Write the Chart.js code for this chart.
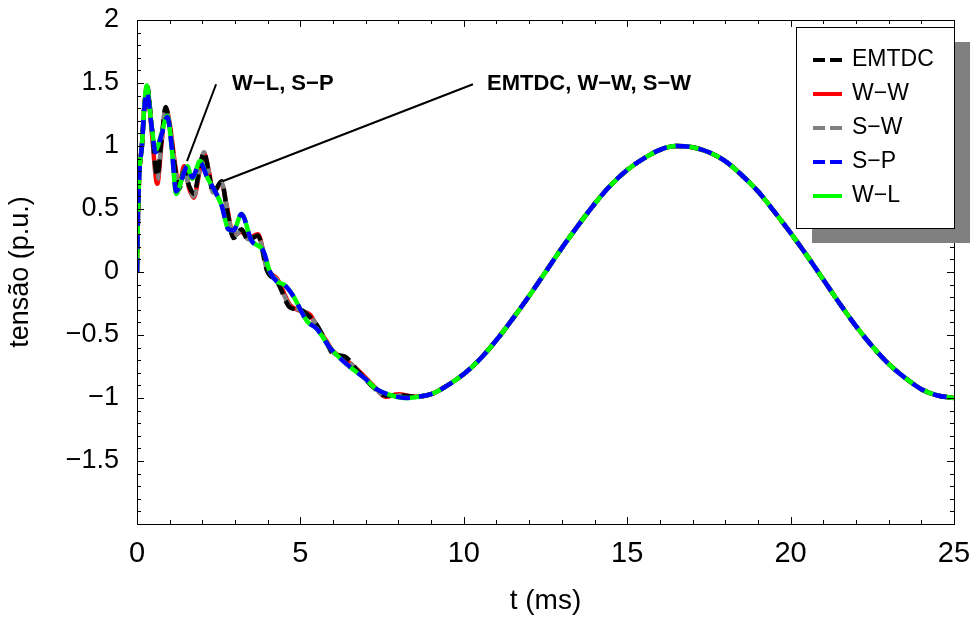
<!DOCTYPE html>
<html>
<head>
<meta charset="utf-8">
<script src="https://cdn.jsdelivr.net/npm/chart.js@4.4.0/dist/chart.umd.min.js"></script>
<style>
  html, body { margin: 0; padding: 0; background: #fff; }
  #wrap { width: 979px; height: 622px; }
</style>
</head>
<body>
<div id="wrap"><canvas id="chart" width="979" height="622"></canvas></div>
<script>
"use strict";
// transient part (t in ms, voltage in p.u.)
let tEarlyA = [0, 0.03, 0.07, 0.15, 0.22, 0.31, 0.45, 0.62, 0.75, 0.88, 1.0, 1.15, 1.29, 1.44, 1.6, 1.74, 1.9, 2.05, 2.2, 2.33, 2.59, 2.75, 2.95, 3.2, 3.4, 3.7, 3.98, 4.3, 4.68, 5.0, 5.3, 5.5, 5.8, 6.0, 6.35, 6.77, 7.3, 7.6, 8.0, 8.5];
let emtdcEarly = [0, 0.45, 0.78, 1.0, 1.3, 1.47, 1.15, 0.76, 1.05, 1.31, 1.15, 0.85, 0.66, 0.8, 0.68, 0.62, 0.8, 0.95, 0.78, 0.63, 0.72, 0.5, 0.27, 0.34, 0.25, 0.29, 0.01, -0.08, -0.28, -0.3, -0.36, -0.42, -0.56, -0.65, -0.67, -0.79, -0.93, -0.98, -0.98, -0.99];
let wwEarly = [0, 0.45, 0.78, 1.0, 1.3, 1.46, 1.12, 0.7, 1.02, 1.3, 1.18, 0.88, 0.68, 0.84, 0.66, 0.59, 0.78, 0.94, 0.8, 0.64, 0.7, 0.52, 0.29, 0.32, 0.27, 0.3, 0.03, -0.06, -0.26, -0.31, -0.34, -0.43, -0.55, -0.63, -0.69, -0.78, -0.92, -0.99, -0.97, -0.99];
let swEarly = [0, 0.45, 0.78, 1.0, 1.3, 1.47, 1.14, 0.73, 1.04, 1.31, 1.16, 0.86, 0.67, 0.82, 0.67, 0.6, 0.79, 0.95, 0.79, 0.63, 0.71, 0.51, 0.28, 0.33, 0.26, 0.29, 0.02, -0.07, -0.27, -0.3, -0.35, -0.42, -0.56, -0.64, -0.68, -0.79, -0.93, -0.98, -0.98, -0.99];

let tEarlyB = [0, 0.03, 0.07, 0.15, 0.22, 0.3, 0.45, 0.57, 0.75, 0.93, 1.05, 1.2, 1.35, 1.54, 1.69, 1.93, 2.15, 2.39, 2.6, 2.79, 2.95, 3.2, 3.5, 3.86, 4.07, 4.3, 4.5, 4.78, 5.2, 5.5, 5.9, 6.5, 7.0, 7.33, 7.8, 8.25, 8.6];
let wlEarly = [0, 0.45, 0.78, 1.0, 1.3, 1.48, 1.15, 0.97, 1.1, 1.24, 1.02, 0.62, 0.72, 0.84, 0.74, 0.88, 0.75, 0.64, 0.52, 0.34, 0.33, 0.46, 0.25, 0.17, 0.0, -0.08, -0.1, -0.19, -0.39, -0.45, -0.6, -0.75, -0.85, -0.93, -0.98, -1.0, -0.99];
let spEarly = [0, 0.45, 0.77, 1.0, 1.28, 1.43, 1.15, 0.95, 1.09, 1.23, 1.02, 0.64, 0.72, 0.84, 0.75, 0.87, 0.75, 0.64, 0.52, 0.34, 0.33, 0.46, 0.25, 0.17, 0.0, -0.08, -0.1, -0.19, -0.39, -0.45, -0.6, -0.75, -0.85, -0.93, -0.98, -1.0, -0.99];

// steady state, all five curves on top of each other
let tSteady = [9, 9.5, 10, 10.5, 11, 11.5, 12, 12.5, 13, 13.5, 14, 14.5, 15, 15.5, 16, 16.5, 17, 17.5, 18, 18.5, 19, 19.5, 20, 20.5, 21, 21.5, 22, 22.5, 23, 23.5, 24, 24.5, 25];
let vSteady = [-0.97, -0.9, -0.81, -0.69, -0.54, -0.37, -0.19, 0.0, 0.19, 0.37, 0.54, 0.69, 0.81, 0.9, 0.97, 1.0, 0.99, 0.95, 0.88, 0.77, 0.64, 0.48, 0.31, 0.13, -0.06, -0.25, -0.43, -0.59, -0.73, -0.84, -0.93, -0.98, -1.0];

let seriesNames = ["EMTDC", "W\u2212W", "S\u2212W", "S\u2212P", "W\u2212L"];
let seriesColors = ["#000000", "#ff0000", "#808080", "#0000ff", "#00ff00"];
let xTickValues = [0, 5, 10, 15, 20, 25];
let yTickValues = [-1.5, -1, -0.5, 0, 0.5, 1, 1.5, 2];
let yTickLabels = ["\u22121.5", "\u22121", "\u22120.5", "0", "0.5", "1", "1.5", "2"];
let annoTexts = ["W\u2212L, S\u2212P", "EMTDC, W\u2212W, S\u2212W"];

function toPoints(tEarly, vEarly) {
  let pts = [];
  for (let i = 0; i < tEarly.length; i++) pts.push({ x: tEarly[i], y: vEarly[i] });
  for (let i = 0; i < tSteady.length; i++) pts.push({ x: tSteady[i], y: vSteady[i] });
  return pts;
}

let seriesData = [
  toPoints(tEarlyA, emtdcEarly),
  toPoints(tEarlyA, wwEarly),
  toPoints(tEarlyA, swEarly),
  toPoints(tEarlyB, spEarly),
  toPoints(tEarlyB, wlEarly),
];
let dashes = [[13, 7], [], [13, 7], [14, 9], []];
let drawOrder = [2, 4, 3, 0, 1]; // lower = drawn on top

const FONT = "'Liberation Sans', Arial, sans-serif";

// frame + inward ticks on all four sides
const framePlugin = {
  id: "frame",
  afterDraw(chart) {
    let ctx = chart.ctx, a = chart.chartArea;
    let xs = chart.scales.x, ys = chart.scales.y;
    ctx.save();
    ctx.strokeStyle = "#000";
    ctx.lineWidth = 1;
    ctx.beginPath();
    for (let t = 0; t <= 25; t++) {
      let px = Math.round(xs.getPixelForValue(t)) + 0.5;
      let len = t % 5 === 0 ? 7 : 4;
      ctx.moveTo(px, a.bottom); ctx.lineTo(px, a.bottom - len);
      ctx.moveTo(px, a.top); ctx.lineTo(px, a.top + len);
    }
    for (let k = -20; k <= 20; k++) {
      let py = Math.round(ys.getPixelForValue(k / 10)) + 0.5;
      let len = k % 5 === 0 ? 7 : 4;
      ctx.moveTo(a.left, py); ctx.lineTo(a.left + len, py);
      ctx.moveTo(a.right, py); ctx.lineTo(a.right - len, py);
    }
    ctx.stroke();
    ctx.strokeRect(Math.round(a.left) + 0.5, Math.round(a.top) + 0.5, Math.round(a.right - a.left), Math.round(a.bottom - a.top));
    ctx.restore();
  },
};

// the two call-out labels with their pointer lines
const annoPlugin = {
  id: "anno",
  afterDatasetsDraw(chart) {
    let ctx = chart.ctx;
    let xs = chart.scales.x, ys = chart.scales.y;
    let X = v => xs.getPixelForValue(v), Y = v => ys.getPixelForValue(v);
    ctx.save();
    ctx.strokeStyle = "#000";
    ctx.lineWidth = 2;
    ctx.beginPath();
    ctx.moveTo(X(2.42), Y(1.49)); ctx.lineTo(X(1.53), Y(0.88));
    ctx.moveTo(X(10.28), Y(1.49)); ctx.lineTo(X(2.62), Y(0.72));
    ctx.stroke();
    ctx.fillStyle = "#000";
    ctx.font = "bold 22px " + FONT;
    ctx.textBaseline = "middle";
    ctx.fillText(annoTexts[0], X(2.91), Y(1.49));
    ctx.fillText(annoTexts[1], X(10.71), Y(1.49));
    ctx.restore();
  },
};

// legend box with drop shadow in the upper right corner
const legendPlugin = {
  id: "legendBox",
  afterDraw(chart) {
    let ctx = chart.ctx, a = chart.chartArea;
    let w = 158, h = 201;
    let x0 = Math.round(a.right) - w, y0 = Math.round(a.top) + 7;
    ctx.save();
    ctx.fillStyle = "#808080";
    ctx.fillRect(x0 + 16, y0 + 15, w, h);
    ctx.fillStyle = "#fff";
    ctx.fillRect(x0, y0, w, h);
    ctx.strokeStyle = "#000";
    ctx.lineWidth = 1;
    ctx.strokeRect(x0 + 0.5, y0 + 0.5, w, h);
    ctx.font = "23px " + FONT;
    ctx.textBaseline = "middle";
    for (let i = 0; i < seriesNames.length; i++) {
      let yy = y0 + 33 + i * 34;
      ctx.strokeStyle = seriesColors[i];
      ctx.lineWidth = 4;
      ctx.setLineDash(dashes[i].length ? [12, 5] : []);
      ctx.beginPath();
      ctx.moveTo(x0 + 17, yy); ctx.lineTo(x0 + 46, yy);
      ctx.stroke();
      ctx.setLineDash([]);
      ctx.fillStyle = "#000";
      ctx.fillText(seriesNames[i], x0 + 56, yy);
    }
    ctx.restore();
  },
};

let ctx = document.getElementById("chart").getContext("2d");
let myChart = new Chart(ctx, {
  type: "line",
  data: {
    datasets: seriesNames.map((name, i) => ({
      label: name,
      data: seriesData[i],
      borderColor: seriesColors[i],
      backgroundColor: seriesColors[i],
      borderWidth: 4.5,
      borderDash: dashes[i],
      pointRadius: 0,
      fill: false,
      cubicInterpolationMode: "monotone",
      order: drawOrder[i],
    })),
  },
  options: {
    responsive: false,
    animation: false,
    devicePixelRatio: 1,
    layout: { padding: { top: 20, right: 25, left: 0, bottom: 0 } },
    plugins: { legend: { display: false }, tooltip: { enabled: false } },
    scales: {
      x: {
        type: "linear",
        min: 0,
        max: 25,
        afterBuildTicks: s => { s.ticks = xTickValues.map(v => ({ value: v })); },
        afterFit: s => { s.height = 98; s.paddingLeft = 0; s.paddingRight = 0; },
        grid: { display: false, drawTicks: false },
        border: { display: false },
        ticks: { color: "#000", padding: 13, font: { family: FONT, size: 29 }, maxRotation: 0 },
        title: { display: true, text: "t (ms)", color: "#000", font: { family: FONT, size: 28 }, padding: { top: 2 } },
      },
      y: {
        min: -2,
        max: 2,
        afterBuildTicks: s => { s.ticks = yTickValues.map(v => ({ value: v })); },
        afterFit: s => { s.width = 137; s.paddingTop = 0; s.paddingBottom = 0; },
        grid: { display: false, drawTicks: false },
        border: { display: false },
        ticks: {
          color: "#000",
          padding: 18,
          font: { family: FONT, size: 27 },
          callback: (v, i) => yTickLabels[i],
        },
        title: { display: true, text: "tens\u00e3o (p.u.)", color: "#000", font: { family: FONT, size: 27 }, padding: { bottom: 2 } },
      },
    },
  },
  plugins: [framePlugin, annoPlugin, legendPlugin],
});
</script>
</body>
</html>
